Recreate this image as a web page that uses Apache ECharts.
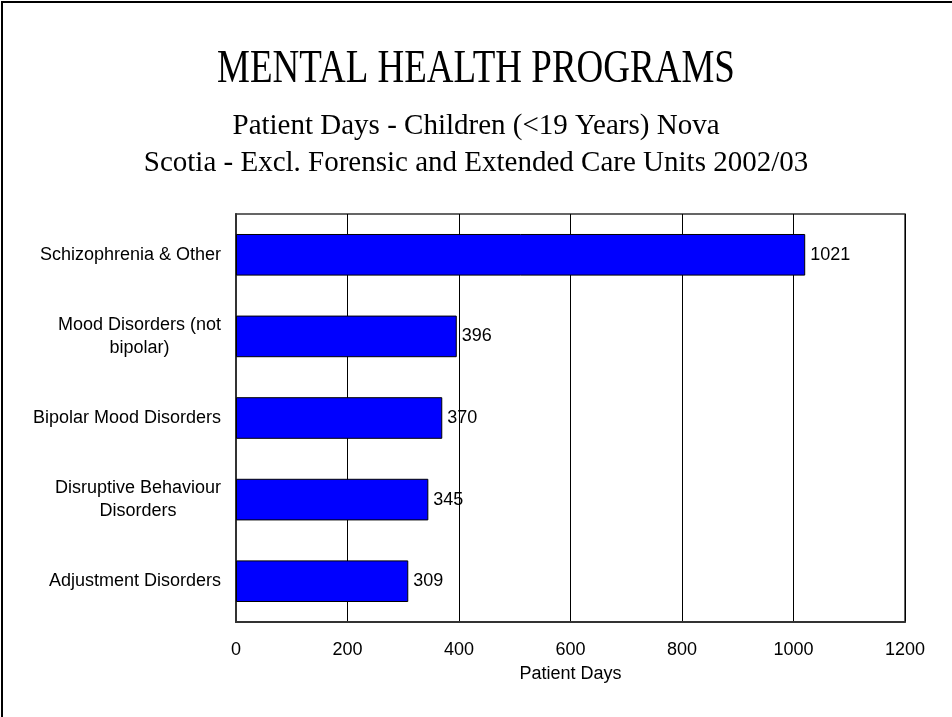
<!DOCTYPE html>
<html>
<head>
<meta charset="utf-8">
<script src="https://cdn.jsdelivr.net/npm/echarts@6/dist/echarts.min.js"></script>
<style>
html,body{margin:0;padding:0;background:#fff;}
#chart{width:952px;height:717px;}
</style>
</head>
<body>
<div id="chart"></div>
<script>
var titleText = 'MENTAL HEALTH PROGRAMS';
var subtitleText = 'Patient Days - Children (<19 Years) Nova\nScotia - Excl. Forensic and Extended Care Units 2002/03';
var categories = ['Schizophrenia & Other', 'Mood Disorders (not\nbipolar)', 'Bipolar Mood Disorders', 'Disruptive Behaviour\nDisorders', 'Adjustment Disorders'];
var values = [1021, 396, 370, 345, 309];
var xAxisName = 'Patient Days';
var xMin = 0, xMax = 1200, xInterval = 200;

var chart = echarts.init(document.getElementById('chart'), null, {renderer: 'canvas'});
chart.setOption({
  backgroundColor: '#ffffff',
  animation: false,
  title: {
    text: subtitleText,
    left: 'center',
    top: 103,
    textStyle: {fontFamily: 'Liberation Serif', fontSize: 29, fontWeight: 'normal', color: '#000', lineHeight: 37, align: 'center'}
  },
  graphic: [{
    type: 'rect',
    shape: {x: 2, y: 2, width: 1200, height: 1000},
    style: {fill: 'none', stroke: '#000', lineWidth: 2},
    silent: true
  }, {
    type: 'text',
    x: 476,
    y: 70,
    scaleY: 1.28,
    style: {text: titleText, fontFamily: 'Liberation Serif', fontSize: 37, fill: '#000', textAlign: 'center', textVerticalAlign: 'middle'},
    silent: true
  }],
  grid: {left: 236, right: 47, top: 214, bottom: 95, containLabel: false, show: true, borderColor: '#333', borderWidth: 1.5},
  xAxis: {
    type: 'value',
    min: xMin, max: xMax, interval: xInterval,
    name: xAxisName,
    nameLocation: 'middle',
    nameGap: 43,
    nameTextStyle: {fontFamily: 'Liberation Sans', fontSize: 18, color: '#000'},
    axisLine: {show: true, lineStyle: {color: '#333', width: 2}},
    axisTick: {show: false},
    axisLabel: {fontFamily: 'Liberation Sans', fontSize: 18, color: '#000', margin: 19, formatter: function (v) { return String(v); }},
    splitLine: {show: true, lineStyle: {color: '#000', width: 1}}
  },
  yAxis: {
    type: 'category',
    data: categories,
    inverse: true,
    axisLine: {show: true, lineStyle: {color: '#333', width: 2}},
    axisTick: {show: false},
    axisLabel: {
      margin: 15,
      formatter: function (v) {
        return v.split('\n').map(function (s) { return '{c|' + s + '}'; }).join('\n');
      },
      rich: {c: {fontFamily: 'Liberation Sans', fontSize: 18, color: '#000', align: 'center', lineHeight: 23}}
    },
    splitLine: {show: false}
  },
  series: [{
    type: 'bar',
    data: values,
    barCategoryGap: '49%',
    itemStyle: {color: '#0000ff', borderColor: '#000', borderWidth: 1},
    label: {show: true, position: 'right', distance: 5, fontFamily: 'Liberation Sans', fontSize: 18, color: '#000'}
  }]
});
</script>
</body>
</html>
